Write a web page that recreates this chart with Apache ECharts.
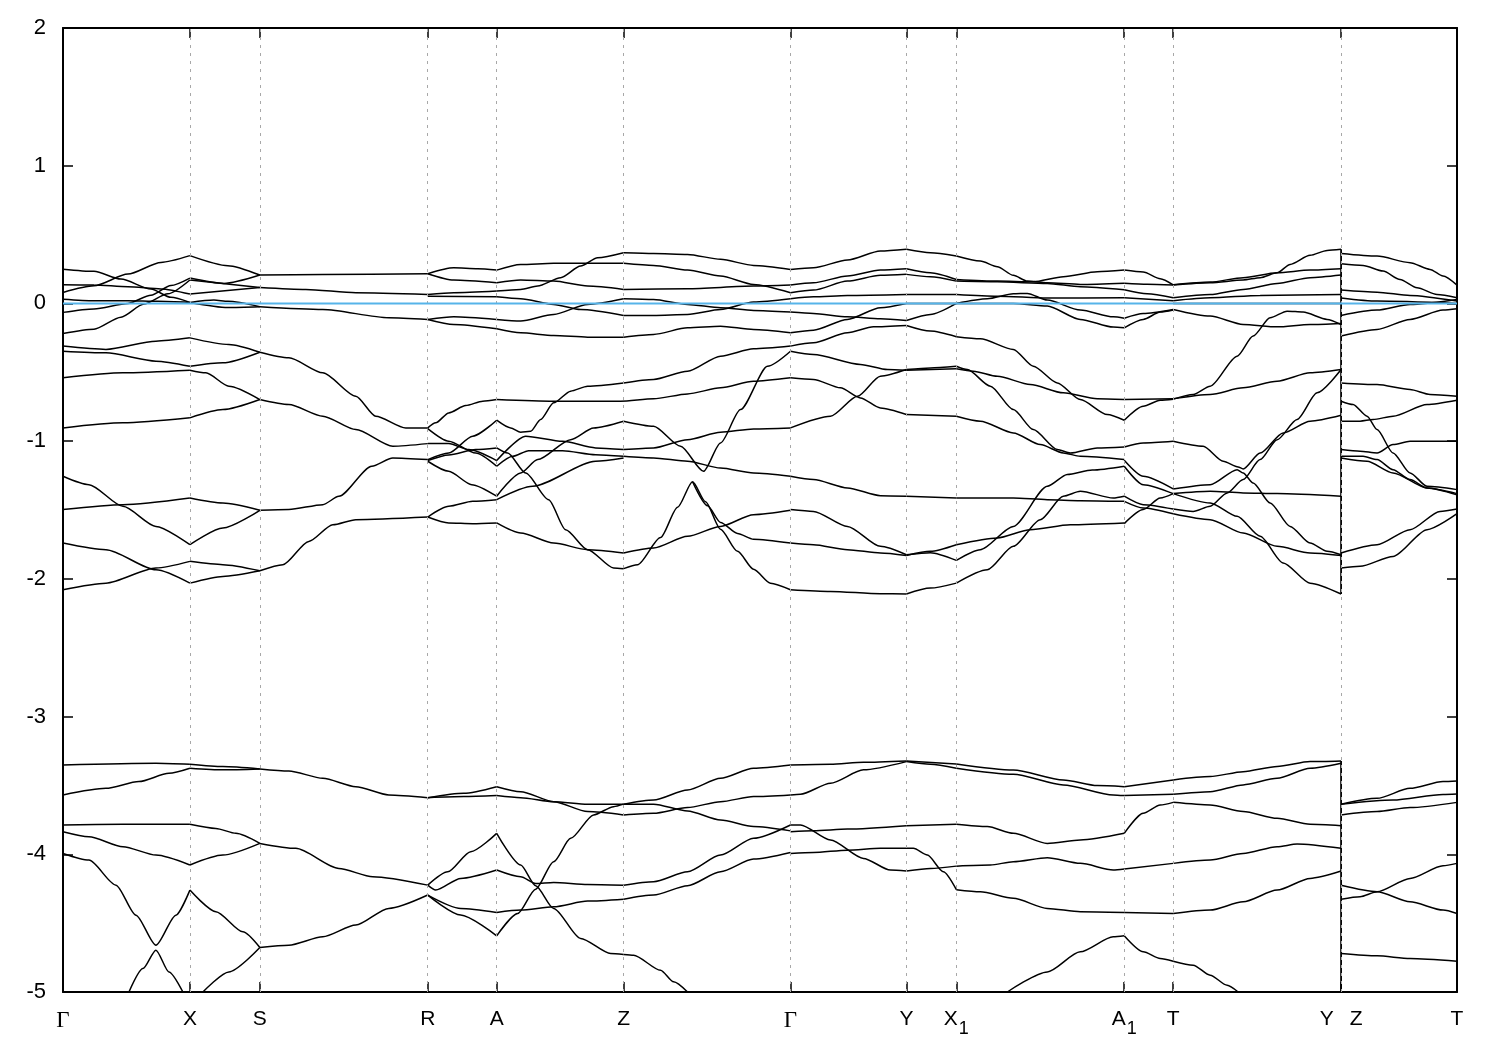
<!DOCTYPE html>
<html><head><meta charset="utf-8">
<script src="https://cdn.jsdelivr.net/npm/echarts@6/dist/echarts.min.js"></script>
<style>html,body{margin:0;padding:0;background:#fff}#c{width:1500px;height:1050px}</style>
</head><body><div id="c"></div>
<script>
// high-symmetry k-path positions and their labels
const kTicks = [0,127,197,365,434,561,728,844,894,1062,1111,1279,1395];
const kLabels = ['Γ','X','S','R','A','Z','Γ','Y','X1','A1','T','Y|Z','T'];
const fermiLevel = 0;
const jumpTop = [[1279,0.393],[1279,-2.110]];
const jumpBottom = [[1279,-3.322],[1279,-5.0]];

// upper manifold, Γ–X–S–R
const bandsGtoR = [
 [[0,0.249],[31,0.233],[58,0.177],[88,0.104],[108,0.044],[127,0.007],[151,0.024],[165,0.015],[197,-0.024],[260,-0.044],[326,-0.104],[365,-0.116]],
 [[0,0.031],[31,0.02],[65,0.02],[95,0.015],[127,0.007],[165,-0.03],[197,-0.024]],
 [[0,0.080],[31,0.128],[65,0.213],[98,0.298],[127,0.347],[165,0.274],[197,0.206],[260,0.210],[365,0.216]],
 [[0,-0.065],[31,-0.04],[65,0.0],[88,0.06],[108,0.13],[127,0.184],[161,0.145],[197,0.206]],
 [[0,0.136],[31,0.134],[65,0.121],[98,0.105],[127,0.068],[197,0.116],[243,0.102],[293,0.078],[365,0.065]],
 [[0,-0.218],[31,-0.187],[58,-0.10],[81,-0.005],[105,0.07],[127,0.17],[197,0.116]],
 [[0,-0.310],[43,-0.334],[93,-0.274],[127,-0.250],[166,-0.298],[197,-0.354],[226,-0.395],[260,-0.504],[293,-0.674],[313,-0.819],[343,-0.904],[365,-0.904]],
 [[0,-0.347],[43,-0.359],[93,-0.419],[127,-0.456],[160,-0.431],[197,-0.354]],
 [[0,-0.540],[60,-0.504],[127,-0.485],[143,-0.504],[166,-0.601],[197,-0.698],[226,-0.734],[260,-0.819],[293,-0.916],[330,-1.037],[365,-1.018]],
 [[0,-0.904],[60,-0.867],[127,-0.831],[160,-0.771],[197,-0.698]],
 [[0,-1.255],[26,-1.316],[60,-1.473],[93,-1.619],[127,-1.752],[160,-1.631],[197,-1.502],[226,-1.497],[260,-1.461],[276,-1.401],[309,-1.182],[330,-1.122],[365,-1.134]],
 [[0,-1.497],[60,-1.461],[127,-1.413],[160,-1.449],[197,-1.502]],
 [[0,-1.740],[43,-1.788],[93,-1.934],[127,-2.031],[160,-1.982],[197,-1.941],[220,-1.897],[246,-1.728],[270,-1.607],[293,-1.570],[365,-1.551]],
 [[0,-2.079],[43,-2.031],[93,-1.921],[127,-1.873],[160,-1.897],[197,-1.941]]
];

// upper manifold, R–A–Z–Γ
const bandsRtoG = [
 [[365,0.216],[391,0.259],[415,0.252],[434,0.242],[458,0.283],[491,0.291],[525,0.291],[561,0.291],[591,0.276],[625,0.242],[658,0.199],[691,0.138],[728,0.078]],
 [[365,0.216],[391,0.170],[434,0.150],[458,0.170],[491,0.162],[525,0.126],[561,0.102],[625,0.107],[691,0.126],[728,0.133]],
 [[365,0.065],[391,0.078],[434,0.090],[458,0.102],[475,0.126],[498,0.187],[518,0.271],[535,0.332],[561,0.368],[591,0.363],[625,0.356],[658,0.320],[691,0.276],[728,0.247]],
 [[365,0.053],[434,0.048],[458,0.034],[491,-0.007],[518,-0.044],[561,-0.087],[591,-0.087],[625,-0.080],[658,-0.044],[691,0.010],[728,0.034]],
 [[365,-0.116],[391,-0.097],[434,-0.116],[458,-0.128],[491,-0.080],[525,-0.007],[561,0.034],[591,0.029],[625,-0.007],[658,-0.031],[691,-0.051],[728,-0.063]],
 [[365,-0.116],[391,-0.153],[434,-0.184],[458,-0.213],[491,-0.233],[525,-0.245],[561,-0.245],[591,-0.225],[625,-0.177],[658,-0.165],[691,-0.189],[728,-0.213]],
 [[365,-0.904],[373,-0.867],[386,-0.795],[403,-0.742],[420,-0.710],[434,-0.698],[491,-0.710],[558,-0.710],[591,-0.693],[625,-0.657],[658,-0.613],[691,-0.565],[728,-0.540]],
 [[365,-0.909],[386,-1.0],[413,-1.086],[434,-1.182],[450,-1.110],[466,-1.069],[500,-1.069],[533,-1.098],[561,-1.110],[591,-1.122],[625,-1.146],[658,-1.195],[691,-1.231],[728,-1.255]],
 [[365,-1.018],[386,-1.018],[406,-1.061],[434,-1.141],[463,-0.964],[500,-1.001],[533,-1.049],[561,-1.061],[591,-1.049],[625,-0.989],[658,-0.935],[691,-0.911],[728,-0.904]],
 [[365,-1.134],[386,-1.086],[410,-0.964],[434,-0.848],[448,-0.904],[458,-0.935],[468,-0.928],[478,-0.843],[491,-0.722],[508,-0.637],[525,-0.601],[561,-0.577],[591,-0.552],[625,-0.492],[658,-0.383],[691,-0.330],[728,-0.310]],
 [[365,-1.141],[386,-1.10],[413,-1.061],[434,-1.049],[445,-1.086],[463,-1.231],[486,-1.425],[503,-1.643],[525,-1.788],[551,-1.921],[561,-1.926],[575,-1.897],[598,-1.700],[615,-1.480],[630,-1.295],[643,-1.440],[658,-1.640],[675,-1.800],[691,-1.930],[708,-2.031],[728,-2.079]],
 [[630,-1.295],[645,-1.470],[658,-1.590],[675,-1.670],[691,-1.712],[728,-1.740]],
 [[365,-1.146],[386,-1.219],[409,-1.316],[434,-1.400],[458,-1.231],[475,-1.134],[508,-0.989],[531,-0.904],[561,-0.855],[591,-0.892],[618,-1.037],[641,-1.219],[658,-1.013],[678,-0.771],[705,-0.456],[728,-0.347]],
 [[365,-1.551],[386,-1.473],[410,-1.437],[434,-1.425],[470,-1.328],[533,-1.146],[561,-1.122]],
 [[365,-1.551],[386,-1.594],[410,-1.599],[434,-1.594],[458,-1.667],[491,-1.740],[525,-1.788],[561,-1.812],[591,-1.776],[625,-1.691],[658,-1.619],[691,-1.534],[728,-1.502]]
];

// upper manifold, Γ–Y–X1–A1
const bandsGtoA1 = [
 [[728,0.247],[751,0.259],[785,0.315],[818,0.380],[844,0.393],[868,0.368],[894,0.344],[918,0.308],[935,0.267],[951,0.204],[965,0.162],[985,0.150],[1018,0.138],[1062,0.147]],
 [[728,0.133],[751,0.150],[785,0.199],[818,0.242],[844,0.252],[868,0.223],[894,0.174],[935,0.162],[971,0.157],[1001,0.194],[1035,0.230],[1062,0.242]],
 [[728,0.078],[751,0.097],[785,0.162],[818,0.204],[844,0.211],[868,0.194],[894,0.162],[935,0.157],[985,0.145],[1018,0.121],[1062,0.099]],
 [[728,0.034],[751,0.048],[785,0.058],[844,0.065],[894,0.065],[935,0.053],[985,0.039],[1062,0.041]],
 [[728,-0.063],[751,-0.073],[785,-0.097],[818,-0.111],[844,-0.124],[868,-0.080],[894,0.0],[925,0.034],[951,0.070],[965,0.073],[985,0.024],[1018,-0.048],[1051,-0.097],[1062,-0.107]],
 [[728,-0.213],[751,-0.194],[785,-0.116],[818,-0.031],[844,0.0],[894,0.0],[951,0.0],[985,-0.019],[1018,-0.116],[1051,-0.172],[1062,-0.177]],
 [[728,-0.310],[751,-0.286],[785,-0.213],[811,-0.170],[844,-0.160],[868,-0.201],[894,-0.242],[918,-0.257],[951,-0.334],[971,-0.456],[995,-0.577],[1018,-0.698],[1045,-0.807],[1062,-0.848]],
 [[728,-0.347],[751,-0.371],[798,-0.443],[825,-0.480],[844,-0.485],[894,-0.475],[911,-0.492],[935,-0.529],[968,-0.589],[1001,-0.649],[1035,-0.693],[1062,-0.698]],
 [[728,-0.540],[751,-0.552],[778,-0.613],[798,-0.686],[818,-0.759],[844,-0.807],[894,-0.819],[918,-0.855],[951,-0.940],[978,-1.025],[1001,-1.086],[1018,-1.110],[1062,-1.134]],
 [[728,-0.904],[768,-0.819],[795,-0.674],[818,-0.528],[844,-0.480],[868,-0.468],[894,-0.456],[905,-0.480],[928,-0.601],[951,-0.771],[971,-0.916],[995,-1.061],[1008,-1.086],[1035,-1.049],[1062,-1.042]],
 [[728,-1.255],[751,-1.279],[785,-1.340],[818,-1.396],[844,-1.400],[894,-1.413],[951,-1.413],[985,-1.425],[1018,-1.432],[1062,-1.437]],
 [[728,-1.497],[751,-1.510],[785,-1.619],[818,-1.764],[844,-1.825],[868,-1.81],[894,-1.866],[918,-1.788],[951,-1.619],[985,-1.328],[1005,-1.243],[1030,-1.21],[1062,-1.182]],
 [[728,-1.740],[751,-1.752],[785,-1.788],[818,-1.812],[844,-1.830],[868,-1.80],[894,-1.752],[935,-1.703],[968,-1.643],[1008,-1.607],[1062,-1.594]],
 [[728,-2.079],[768,-2.091],[818,-2.108],[844,-2.110],[868,-2.067],[894,-2.031],[925,-1.934],[951,-1.764],[978,-1.570],[1001,-1.400],[1018,-1.364],[1051,-1.413],[1062,-1.400]]
];

// upper manifold, A1–T–Y
const bandsA1toY = [
 [[1062,0.147],[1085,0.14],[1111,0.133],[1148,0.150],[1181,0.170],[1198,0.187],[1215,0.223],[1228,0.283],[1248,0.349],[1265,0.385],[1279,0.393]],
 [[1062,0.242],[1081,0.228],[1098,0.18],[1111,0.135],[1148,0.155],[1181,0.187],[1215,0.223],[1248,0.242],[1279,0.252]],
 [[1062,0.099],[1085,0.07],[1111,0.041],[1148,0.065],[1181,0.102],[1215,0.145],[1248,0.187],[1279,0.206]],
 [[1062,0.041],[1111,0.020],[1148,0.041],[1198,0.058],[1279,0.065]],
 [[1111,0.0],[1279,0.0]],
 [[1062,-0.107],[1081,-0.073],[1111,-0.044],[1148,-0.092],[1181,-0.153],[1215,-0.170],[1248,-0.153],[1279,-0.145]],
 [[1062,-0.177],[1081,-0.116],[1098,-0.063],[1111,-0.048]],
 [[1062,-0.698],[1111,-0.693],[1148,-0.661],[1181,-0.613],[1215,-0.565],[1248,-0.504],[1279,-0.480]],
 [[1062,-0.848],[1081,-0.746],[1098,-0.703],[1111,-0.695],[1131,-0.661],[1148,-0.601],[1175,-0.383],[1191,-0.237],[1208,-0.104],[1225,-0.056],[1241,-0.063],[1265,-0.116],[1279,-0.153]],
 [[1062,-1.042],[1081,-1.013],[1111,-1.001],[1141,-1.037],[1161,-1.146],[1176,-1.187],[1181,-1.202],[1198,-1.086],[1221,-0.940],[1248,-0.855],[1279,-0.812]],
 [[1062,-1.139],[1081,-1.255],[1111,-1.347],[1148,-1.316],[1175,-1.207],[1181,-1.231],[1191,-1.304],[1208,-1.449],[1228,-1.619],[1248,-1.740],[1265,-1.800],[1279,-1.825]],
 [[1062,-1.182],[1081,-1.316],[1111,-1.381],[1148,-1.364],[1181,-1.376],[1215,-1.381],[1279,-1.400]],
 [[1062,-1.400],[1081,-1.461],[1111,-1.493],[1131,-1.510],[1148,-1.473],[1165,-1.376],[1181,-1.279],[1198,-1.134],[1215,-0.989],[1235,-0.843],[1255,-0.649],[1279,-0.480]],
 [[1062,-1.437],[1081,-1.485],[1111,-1.527],[1148,-1.570],[1181,-1.667],[1215,-1.764],[1248,-1.812],[1279,-1.830]],
 [[1062,-1.599],[1081,-1.497],[1098,-1.413],[1111,-1.381],[1148,-1.449],[1175,-1.546],[1198,-1.691],[1221,-1.885],[1248,-2.031],[1279,-2.110]]
];

// upper manifold, Z–T
const bandsZtoT = [
 [[1279,0.363],[1315,0.344],[1348,0.296],[1368,0.247],[1381,0.199],[1395,0.133]],
 [[1279,0.288],[1301,0.276],[1321,0.235],[1338,0.174],[1355,0.114],[1375,0.065],[1395,0.041]],
 [[1279,0.097],[1315,0.082],[1348,0.058],[1395,0.017]],
 [[1279,0.04],[1315,0.017],[1395,0.0]],
 [[1279,-0.087],[1315,-0.048],[1348,-0.007],[1395,0.029]],
 [[1279,-0.237],[1315,-0.189],[1348,-0.116],[1381,-0.048],[1395,-0.039]],
 [[1279,-0.577],[1315,-0.589],[1348,-0.625],[1368,-0.661],[1395,-0.674]],
 [[1279,-0.710],[1291,-0.734],[1305,-0.819],[1315,-0.916],[1331,-1.086],[1348,-1.231],[1365,-1.328],[1395,-1.352]],
 [[1279,-0.855],[1298,-0.855],[1311,-0.843],[1331,-0.819],[1365,-0.734],[1395,-0.703]],
 [[1279,-1.061],[1298,-1.073],[1315,-1.086],[1331,-1.025],[1348,-1.001],[1395,-1.001]],
 [[1279,-1.110],[1301,-1.110],[1315,-1.134],[1331,-1.207],[1348,-1.279],[1365,-1.340],[1395,-1.390]],
 [[1279,-1.122],[1305,-1.146],[1331,-1.231],[1365,-1.340],[1395,-1.381]],
 [[1279,-1.812],[1315,-1.752],[1348,-1.643],[1378,-1.510],[1395,-1.493]],
 [[1279,-1.921],[1298,-1.909],[1331,-1.837],[1365,-1.643],[1395,-1.527]]
];

// lower manifold
const deepGtoR = [
 [[0,-3.351],[93,-3.339],[127,-3.346],[160,-3.363],[197,-3.380],[226,-3.395],[260,-3.448],[293,-3.509],[326,-3.569],[365,-3.589]],
 [[0,-3.569],[43,-3.521],[76,-3.472],[106,-3.412],[127,-3.375],[160,-3.387],[197,-3.380]],
 [[0,-3.787],[60,-3.782],[127,-3.782],[153,-3.812],[173,-3.848],[197,-3.921],[233,-3.957],[276,-4.103],[310,-4.163],[365,-4.224]],
 [[0,-3.836],[26,-3.872],[60,-3.945],[93,-4.006],[127,-4.078],[160,-4.006],[197,-3.921]],
 [[0,-3.994],[26,-4.042],[53,-4.224],[73,-4.442],[93,-4.660],[113,-4.442],[127,-4.260],[153,-4.417],[180,-4.563],[197,-4.677]],
 [[66,-5.0],[80,-4.830],[93,-4.696],[106,-4.854],[120,-5.0]],
 [[140,-5.0],[166,-4.854],[197,-4.677],[226,-4.660],[260,-4.599],[293,-4.514],[326,-4.393],[365,-4.296]]
];
const deepRtoG = [
 [[365,-3.589],[401,-3.557],[434,-3.509],[458,-3.545],[491,-3.618],[525,-3.690],[561,-3.714],[591,-3.702],[625,-3.661],[658,-3.618],[691,-3.581],[728,-3.569]],
 [[365,-3.589],[401,-3.581],[434,-3.574],[458,-3.589],[491,-3.618],[525,-3.636],[561,-3.636],[591,-3.606],[625,-3.533],[658,-3.448],[691,-3.375],[728,-3.351]],
 [[365,-4.224],[385,-4.127],[408,-3.981],[434,-3.848],[458,-4.078],[473,-4.228],[491,-4.393],[518,-4.611],[548,-4.720],[561,-4.727],[571,-4.733],[598,-4.842],[611,-4.926],[625,-5.0]],
 [[365,-4.224],[373,-4.260],[398,-4.175],[434,-4.114],[458,-4.163],[473,-4.212],[491,-4.204],[525,-4.219],[561,-4.224],[591,-4.199],[625,-4.127],[658,-4.006],[691,-3.884],[728,-3.787]],
 [[365,-4.296],[398,-4.393],[434,-4.422],[458,-4.405],[491,-4.381],[525,-4.340],[561,-4.326],[591,-4.296],[625,-4.228],[658,-4.127],[691,-4.035],[728,-3.987]],
 [[365,-4.296],[398,-4.441],[434,-4.592],[455,-4.430],[473,-4.253],[491,-4.054],[508,-3.884],[531,-3.714],[551,-3.654],[561,-3.636],[591,-3.636],[625,-3.685],[658,-3.751],[691,-3.799],[728,-3.830]]
];
const deepGtoA1 = [
 [[728,-3.351],[768,-3.346],[801,-3.332],[844,-3.322],[894,-3.344],[951,-3.388],[1001,-3.460],[1035,-3.501],[1062,-3.509]],
 [[728,-3.569],[738,-3.564],[768,-3.484],[801,-3.387],[844,-3.327],[868,-3.346],[894,-3.375],[951,-3.419],[1001,-3.496],[1051,-3.569],[1062,-3.574]],
 [[728,-3.787],[738,-3.787],[768,-3.896],[801,-4.030],[828,-4.115],[844,-4.122],[868,-4.103],[894,-4.086],[928,-4.078],[951,-4.054],[985,-4.025],[1018,-4.066],[1051,-4.114],[1062,-4.107]],
 [[728,-3.836],[751,-3.829],[785,-3.817],[844,-3.792],[894,-3.782],[925,-3.799],[951,-3.848],[985,-3.921],[1018,-3.896],[1062,-3.848]],
 [[728,-3.994],[751,-3.987],[785,-3.970],[818,-3.957],[851,-3.957],[865,-4.006],[881,-4.127],[894,-4.257],[918,-4.272],[951,-4.320],[985,-4.393],[1018,-4.417],[1062,-4.422]],
 [[945,-5.0],[985,-4.854],[1018,-4.708],[1051,-4.599],[1062,-4.592]]
];
const deepA1toY = [
 [[1062,-3.509],[1111,-3.460],[1148,-3.436],[1181,-3.400],[1215,-3.363],[1248,-3.327],[1279,-3.322]],
 [[1062,-3.574],[1111,-3.564],[1148,-3.545],[1181,-3.496],[1215,-3.448],[1248,-3.375],[1279,-3.339]],
 [[1062,-3.848],[1081,-3.702],[1098,-3.642],[1111,-3.623],[1148,-3.642],[1181,-3.690],[1215,-3.739],[1248,-3.782],[1279,-3.792]],
 [[1062,-4.107],[1111,-4.066],[1148,-4.042],[1181,-3.994],[1215,-3.945],[1235,-3.926],[1279,-3.957]],
 [[1062,-4.422],[1111,-4.430],[1148,-4.405],[1181,-4.345],[1215,-4.260],[1248,-4.175],[1279,-4.122]],
 [[1062,-4.592],[1081,-4.708],[1098,-4.757],[1111,-4.776],[1131,-4.805],[1148,-4.878],[1165,-4.951],[1176,-5.0]]
];
const deepZtoT = [
 [[1279,-3.636],[1315,-3.594],[1348,-3.521],[1381,-3.472],[1395,-3.467]],
 [[1279,-3.636],[1331,-3.606],[1381,-3.565],[1395,-3.562]],
 [[1279,-3.714],[1315,-3.690],[1348,-3.661],[1395,-3.623]],
 [[1279,-4.225],[1315,-4.272],[1348,-4.345],[1381,-4.405],[1395,-4.430]],
 [[1279,-4.326],[1298,-4.308],[1315,-4.272],[1348,-4.175],[1381,-4.083],[1395,-4.066]],
 [[1279,-4.720],[1315,-4.737],[1348,-4.757],[1395,-4.776]]
];

const allLines = [].concat(bandsGtoR, bandsRtoG, bandsGtoA1, bandsA1toY, bandsZtoT,
  deepGtoR, deepRtoG, deepGtoA1, deepA1toY, deepZtoT);

// split every polyline at high-symmetry points so kinks there stay sharp
function splitAtTicks(line) {
  const pieces = []; let cur = [line[0]];
  for (let i = 1; i < line.length; i++) {
    cur.push(line[i]);
    if (kTicks.indexOf(line[i][0]) >= 0 && i < line.length - 1) { pieces.push(cur); cur = [line[i]]; }
  }
  pieces.push(cur);
  return pieces;
}

const series = [];
allLines.forEach(function (line) {
  splitAtTicks(line).forEach(function (p) {
    series.push({type:'line', data:p, showSymbol:false, symbol:'none', smooth:0.25, smoothMonotone:'x',
      silent:true, animation:false, clip:true, z:3,
      lineStyle:{color:'#000', width:1.5}});
  });
});
[jumpTop, jumpBottom].forEach(function (j) {
  series.push({type:'line', data:j, showSymbol:false, symbol:'none', silent:true, animation:false, z:3,
    lineStyle:{color:'#000', width:1.8}});
});
// grid lines at high-symmetry points
series.push({type:'line', data:[], silent:true, animation:false, z:1,
  markLine:{symbol:['none','none'], silent:true, animation:false, label:{show:false},
    lineStyle:{color:'#a8a8a8', type:[3,5], width:1},
    data: kTicks.slice(1, -1).map(function (k) { return {xAxis:k}; })}});
// Fermi level
series.push({type:'line', data:[[kTicks[0], fermiLevel],[kTicks[kTicks.length-1], fermiLevel]],
  showSymbol:false, symbol:'none', silent:true, animation:false, z:5,
  lineStyle:{color:'#56b4e9', width:2}});

const FONT = 'Liberation Sans';
function labelFor(v) {
  const i = kTicks.indexOf(Math.round(v));
  if (i < 0) return '';
  const s = kLabels[i];
  if (s === 'Γ') return '{g|Γ}';
  if (s === 'X1') return '{m|X}{sub|1}';
  if (s === 'A1') return '{m|A}{sub|1}';
  if (s === 'Y|Z') return '{m|Y}{gap|}{m|Z}';
  return '{m|' + s + '}';
}
const rich = {
  m:{fontSize:21, fontFamily:FONT, color:'#000', lineHeight:24, verticalAlign:'top'},
  g:{fontSize:23, fontFamily:'Liberation Serif', color:'#000', lineHeight:24, verticalAlign:'top'},
  sub:{fontSize:18, fontFamily:FONT, color:'#000', lineHeight:24, padding:[11,0,0,1], verticalAlign:'top'},
  gap:{width:16}
};

const axisLineStyle = {color:'#000', width:2};
const option = {
  backgroundColor:'#fff',
  animation:false,
  grid:{left:63, right:43, top:28, bottom:58, containLabel:false},
  xAxis:[
    {type:'value', min:0, max:1395, position:'bottom',
     axisLine:{show:true, onZero:false, lineStyle:axisLineStyle},
     axisTick:{show:true, inside:true, length:10, customValues:kTicks, lineStyle:{color:'#000', width:1.5}},
     axisLabel:{show:true, customValues:kTicks, formatter:labelFor, rich:rich, margin:17, color:'#000'},
     splitLine:{show:false}},
    {type:'value', min:0, max:1395, position:'top',
     axisLine:{show:true, onZero:false, lineStyle:axisLineStyle},
     axisTick:{show:true, inside:true, length:10, customValues:kTicks, lineStyle:{color:'#000', width:1.5}},
     axisLabel:{show:false}, splitLine:{show:false}}
  ],
  yAxis:[
    {type:'value', min:-5, max:2, interval:1, position:'left',
     axisLine:{show:true, onZero:false, lineStyle:axisLineStyle},
     axisTick:{show:true, inside:true, length:10, lineStyle:{color:'#000', width:1.5}},
     axisLabel:{show:true, fontSize:22, fontFamily:FONT, color:'#000', margin:17},
     splitLine:{show:false}},
    {type:'value', min:-5, max:2, interval:1, position:'right',
     axisLine:{show:true, onZero:false, lineStyle:axisLineStyle},
     axisTick:{show:true, inside:true, length:10, lineStyle:{color:'#000', width:1.5}},
     axisLabel:{show:false}, splitLine:{show:false}}
  ],
  series: series
};
const chart = echarts.init(document.getElementById('c'), null, {renderer:'canvas'});
chart.setOption(option);
</script>
</body></html>
